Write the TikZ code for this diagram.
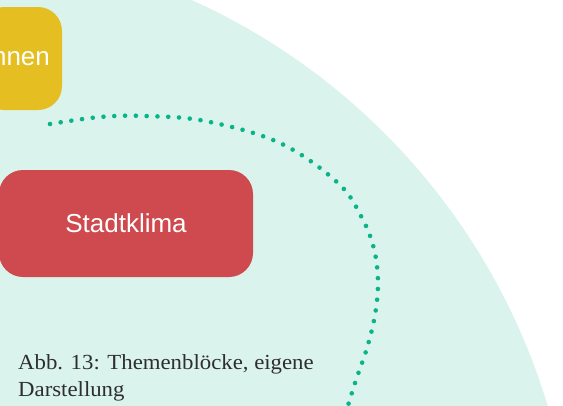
\documentclass[tikz,border=0pt]{standalone}
\usepackage{fontspec}
\setmainfont{Liberation Serif}
\newfontfamily\boxfont{Liberation Sans}
\newfontfamily\capfont[FakeStretch=1.06]{Liberation Serif}
\definecolor{mint}{HTML}{DAF3EC}
\definecolor{dotgreen}{HTML}{0AB48A}
\definecolor{blockyellow}{HTML}{E5BE22}
\definecolor{blockred}{HTML}{CE4A4E}
\definecolor{captiongray}{HTML}{2E2E2E}
\tikzset{
  topicbox/.style={rounded corners=24pt, inner sep=0pt, text=white,
    font=\boxfont\fontsize{26}{30}\selectfont},
  dotline/.style={dotgreen, line width=4.6pt, line cap=round,
    dash pattern=on 0pt off 10.8pt},
  caption/.style={anchor=north west, align=left, inner sep=0pt,
    text=captiongray, font=\capfont\fontsize{21.5}{27}\selectfont}
}
\begin{document}
\begin{tikzpicture}[x=1pt, y=-1pt]
  \useasboundingbox (0,0) rectangle (563,405);
  \clip (0,0) rectangle (563,405);
  % large background disc
  \fill[white] (0,0) rectangle (563,405);
  \fill[mint] (-75,593) circle (650pt);
  % dotted ring
  \draw[dotline] plot[smooth, tension=0.6] coordinates {
    (50,124) (100,117) (145,116) (205,121) (280,143) (338,183)
    (362,218) (374,249) (378,282) (375,315) (367,348) (356,380) (346,412)};
  % topic blocks
  \node[topicbox, fill=blockyellow, minimum width=82pt, minimum height=103pt]
    (wohnen) at (21,58.5) {nnen};
  \node[topicbox, fill=blockred, minimum width=254pt, minimum height=107pt]
    (klima) at (126,223.5) {Stadtklima\hspace{10pt}};
  % caption
  \node[caption] (cap) at (18,354) {Abb. 13: Themenblöcke, eigene\\Darstellung};
\end{tikzpicture}
\end{document}
